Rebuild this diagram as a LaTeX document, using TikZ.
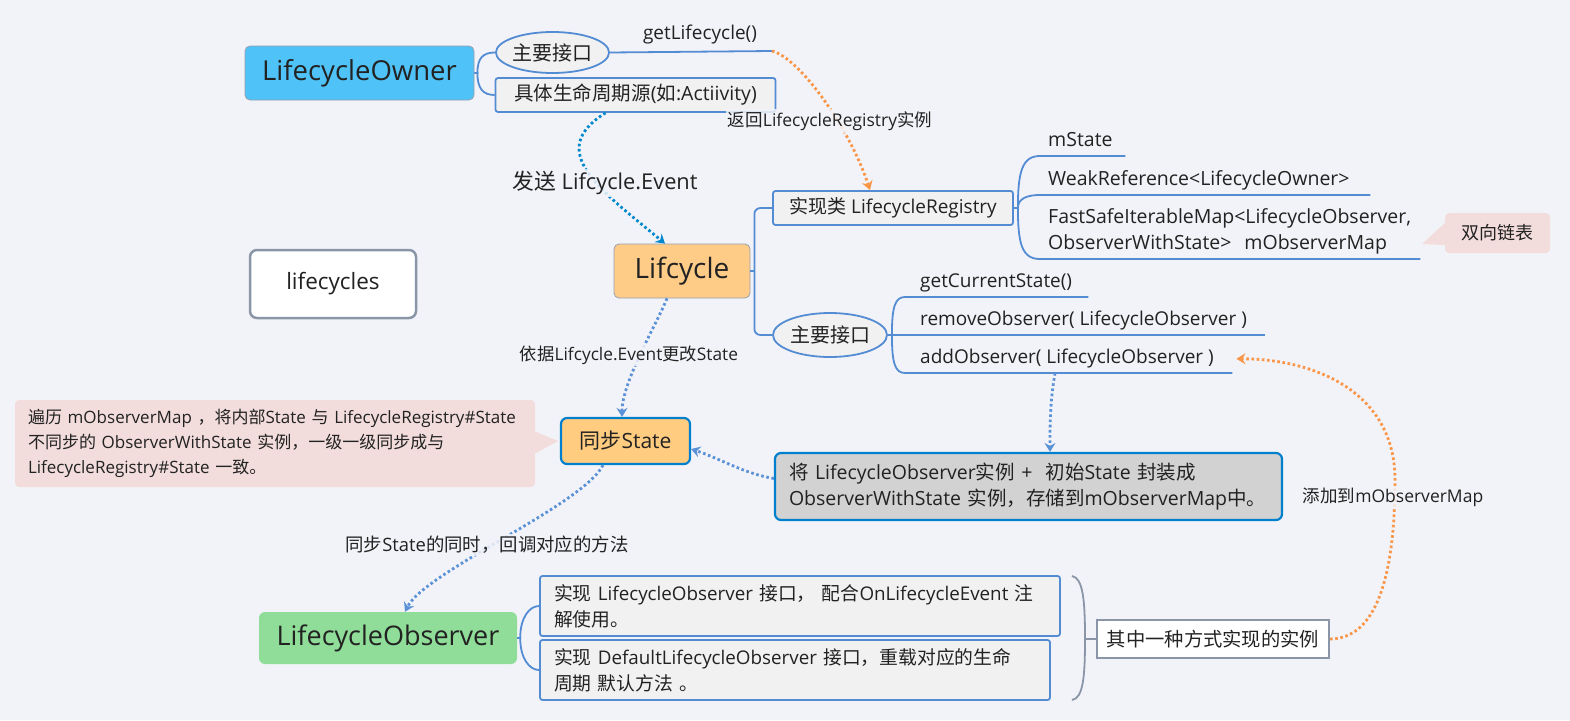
\documentclass[tikz,border=0pt]{standalone}
\usepackage{fontspec}
\setmainfont{Open Sans}
\newfontfamily\cjk{Noto Sans CJK SC}
\usetikzlibrary{shapes.geometric,arrows.meta}
\XeTeXinterchartokenstate=1
\newXeTeXintercharclass\cjkclass
\newcount\cjkc
\def\setcls#1#2#3{\cjkc=#1\relax\loop\XeTeXcharclass\cjkc=#3\relax\ifnum\cjkc<#2\relax\advance\cjkc by 1\relax\repeat}
\setcls{"0021}{"007E}{0}
\setcls{"4E00}{"9FFF}{\cjkclass}
\setcls{"3000}{"303F}{\cjkclass}
\setcls{"FF00}{"FFEF}{\cjkclass}
\def\latin{\rmfamily}
\XeTeXinterchartoks 0 \cjkclass = {\cjk}
\XeTeXinterchartoks 4095 \cjkclass = {\cjk}
\XeTeXinterchartoks \cjkclass 0 = {\latin}
\XeTeXinterchartoks \cjkclass 4095 = {\latin}
\newcommand\fsz[2]{\fontsize{#1}{#2}\selectfont}
\newcommand\lbox[2]{\makebox[#1][l]{#2}}
\definecolor{bgc}{RGB}{242,243,248}
\definecolor{brc}{RGB}{84,140,212}
\definecolor{lg}{RGB}{241,241,241}
\definecolor{ownc}{RGB}{79,195,247}
\definecolor{ownb}{RGB}{150,160,175}
\definecolor{orc}{RGB}{255,204,136}
\definecolor{gbr}{RGB}{138,150,168}
\definecolor{syc}{RGB}{255,204,128}
\definecolor{dbl}{RGB}{0,128,204}
\definecolor{gbx}{RGB}{210,210,210}
\definecolor{grc}{RGB}{143,221,152}
\definecolor{pk}{RGB}{242,221,220}
\definecolor{oarr}{RGB}{249,150,72}
\definecolor{darr}{RGB}{0,136,204}
\definecolor{larr}{RGB}{90,145,215}
\definecolor{tc}{RGB}{34,34,34}
\begin{document}
\begin{tikzpicture}[x=1pt,y=-1pt,
  every node/.append style={text=tc,inner sep=0pt},
  branch/.style={draw=brc,line width=1.8pt},
  sub/.style={draw=brc,line width=1.8pt,fill=lg,rounded corners=2.5pt},
  ell/.style={ellipse,draw=brc,line width=1.8pt,fill=lg},
  ul/.style={anchor=south west,inner xsep=8pt,inner ysep=5pt,align=left,font=\fsz{19}{26}},
  ulone/.style={text height=14pt,text depth=4pt},
  dotl/.style={line width=2.8pt,dash pattern=on 2.6pt off 2.6pt,-{Stealth[length=9pt,width=11pt,inset=3pt]}},
  lbl/.style={fill=bgc,fill opacity=0.85,text opacity=1,inner sep=2pt},
  ]
\fill[bgc] (0,0) rectangle (1570,720);
\useasboundingbox (0,0) rectangle (1570,720);

% LifecycleOwner
\node[fill=ownc,draw=ownb,line width=0.8pt,rounded corners=5pt,minimum width=229pt,minimum height=54pt,font=\fsz{27.5}{32}] (owner) at (359.5,73) {LifecycleOwner};
\node[ell,minimum width=113pt,minimum height=41pt,font=\fsz{20}{24}] (ifc1) at (552.5,52.5) {主要接口};
\node[sub,minimum width=280pt,minimum height=34pt,font=\fsz{19.5}{22}] (src) at (635.5,95) {具体生命周期源(如:Actiivity)};
\draw[branch] (owner.east) -- ++(3,0) .. controls +(0,-15) and +(-12,0) .. (ifc1.west);
\draw[branch] (owner.east) -- ++(3,0) .. controls +(0,15) and +(-12,0) .. (src.west);
\coordinate (glend) at (772,51);
\draw[branch] (ifc1.east) -- (glend);
\node[font=\fsz{19}{22}] (gl) at (700,35) {getLifecycle()};

% Lifcycle
\node[fill=orc,draw=ownb,line width=0.8pt,rounded corners=5pt,minimum width=136pt,minimum height=54pt,font=\fsz{28}{32}] (lifc) at (682,271) {Lifcycle};
\node[fill=white,draw=gbr,line width=2.5pt,rounded corners=7pt,minimum width=166pt,minimum height=68pt,font=\fsz{22.5}{26}] (lcs) at (333,284) {lifecycles};
\node[sub,minimum width=240pt,minimum height=34pt,font=\fsz{19}{22}] (impl) at (893,208) {实现类 LifecycleRegistry};
\node[ell,minimum width=114pt,minimum height=44pt,font=\fsz{20}{24}] (ifc2) at (830,335) {主要接口};
\draw[branch] (lifc.east) -- ++(4,0);
\draw[branch,rounded corners=6pt] ([xshift=4pt]lifc.east) |- (impl.west);
\draw[branch,rounded corners=6pt] ([xshift=4pt]lifc.east) |- (ifc2.west);

% registry members
\node[ul,ulone,font=\fsz{19.5}{26}] (ms) at (1040,156) {\lbox{69pt}{mState}};
\node[ul,ulone,font=\fsz{19.5}{26}] (wr) at (1040,195) {\lbox{314pt}{WeakReference<LifecycleOwner>}};
\node[ul,text width=364pt,font=\fsz{19.5}{26}] (fs) at (1040,259) {FastSafeIterableMap<LifecycleObserver,\\ObserverWithState>\ \ mObserverMap};
\draw[branch] (impl.east) -- ++(4,0) .. controls +(0,-36) and +(-18,0) .. (ms.south west) -- (ms.south east);
\draw[branch] (impl.east) -- ++(4,0) .. controls +(0,-10) and +(-12,0) .. (wr.south west) -- (wr.south east);
\draw[branch] (impl.east) -- ++(4,0) .. controls +(0,36) and +(-18,0) .. (fs.south west) -- (fs.south east);

% note
\node[fill=pk,rounded corners=4pt,minimum width=105pt,minimum height=40pt,font=\fsz{18}{22}] (dl) at (1497.5,233) {双向链表};
\coordinate (dltip) at (1422,244);
\fill[pk] ([yshift=10pt]dl.west) -- (dltip) -- ([yshift=-12pt]dl.west) -- cycle;

% interface members
\node[ul,ulone,inner xsep=15pt] (gc) at (905,297) {\lbox{153pt}{getCurrentState()}};
\node[ul,ulone,inner xsep=15pt] (rm) at (905,335) {\lbox{330pt}{removeObserver( LifecycleObserver )}};
\node[ul,ulone,inner xsep=15pt] (ao) at (905,373) {\lbox{297pt}{addObserver( LifecycleObserver )}};
\draw[branch] (ifc2.east) -- ++(4,0) .. controls +(0,-28) and +(-10,0) .. (gc.south west) -- (gc.south east);
\draw[branch] (ifc2.east) -- (rm.south west) -- (rm.south east);
\draw[branch] (ifc2.east) -- ++(4,0) .. controls +(0,28) and +(-10,0) .. (ao.south west) -- (ao.south east);

% sync
\node[fill=syc,draw=dbl,line width=2.2pt,rounded corners=6pt,minimum width=129pt,minimum height=46pt,font=\fsz{21}{24}] (sync) at (625.5,441) {同步State};
\node[fill=gbx,draw=dbl,line width=2.2pt,rounded corners=6pt,minimum height=67pt,text width=479pt,inner xsep=14pt,align=left,font=\fsz{19.5}{26}] (wrap) at (1028.5,486.5) {将 LifecycleObserver实例 +\ \ 初始State 封装成\\ObserverWithState 实例，存储到mObserverMap中。};
\node[fill=pk,rounded corners=4pt,minimum height=87pt,text width=494pt,inner xsep=13pt,align=left,font=\fsz{17}{25}] (cb) at (275,443.5) {遍历 mObserverMap ，将内部State 与 LifecycleRegistry\#State\\不同步的 ObserverWithState 实例，一级一级同步成与\\LifecycleRegistry\#State 一致。};
\coordinate (cbtip) at (558,441);
\fill[pk] ([yshift=12pt]cb.east) -- (cbtip) -- ([yshift=-10pt]cb.east) -- cycle;

% observer
\node[fill=grc,rounded corners=6pt,minimum width=258pt,minimum height=52pt,font=\fsz{27}{30}] (lo) at (388,638) {LifecycleObserver};
\node[sub,minimum height=60pt,text width=492pt,inner xsep=14pt,align=left,font=\fsz{18.8}{26}] (b1) at (800,606) {实现 LifecycleObserver 接口， 配合OnLifecycleEvent 注\\解使用。};
\node[sub,minimum height=60pt,text width=482pt,inner xsep=14pt,align=left,font=\fsz{18.8}{26}] (b2) at (795,670) {实现 DefaultLifecycleObserver 接口，重载对应的生命\\周期 默认方法 。};
\draw[branch] (lo.east) -- ++(3,0) .. controls +(0,-20) and +(-10,0) .. (b1.west);
\draw[branch] (lo.east) -- ++(3,0) .. controls +(0,20) and +(-10,0) .. (b2.west);
\node[fill=white,draw=gbr,line width=2pt,minimum width=232pt,minimum height=38pt,font=\fsz{19.3}{22}] (tag) at (1213,639) {其中一种方式实现的实例};
\coordinate (brt) at (1072,576);
\coordinate (brm) at (1085,639);
\coordinate (brb) at (1072,700);
\draw[gbr,line width=1.8pt] (brt) .. controls (1083,578) and (1085,600) .. (brm) .. controls (1085,678) and (1083,698) .. (brb);
\draw[gbr,line width=1.8pt] (brm) -- (tag.west);

% dotted arrows
\draw[dotl,oarr] (glend) .. controls +(28,7) and +(-20,-61) .. ([xshift=-23pt]impl.north);
\draw[dotl,darr] ([xshift=-30pt]src.south) .. controls +(-61,38) and +(-65,-54) .. ([xshift=-17pt]lifc.north);
\draw[dotl,larr] ([xshift=-15pt]lifc.south) .. controls +(-10,25) and +(0,-35) .. ([xshift=-3.5pt]sync.north);
\draw[dotl,larr] ([yshift=8pt]wrap.west) .. controls +(-30,-5) and +(30,10) .. ([yshift=-8pt]sync.east);
\draw[dotl,larr] ([xshift=150pt]ao.south west) .. controls +(-5,30) and +(0,-30) .. ([xshift=21.5pt]wrap.north);
\draw[dotl,larr] ([xshift=-22.5pt]sync.south) .. controls +(-20,40) and +(20,-40) .. ([xshift=17pt]lo.north);
\coordinate (gmid) at (1395,480);
\draw[dotl,oarr] (tag.east) .. controls +(55,0) and +(0,70) .. (gmid) .. controls +(0,-90) and +(75,0) .. ([xshift=4pt]ao.east);

% labels
\node[lbl,font=\fsz{17.5}{20}] (lb0) at (830,121) {返回LifecycleRegistry实例};
\node[lbl,font=\fsz{21.8}{25}] (lb1) at (605,183) {发送 Lifcycle.Event};
\node[lbl,font=\fsz{17.3}{20}] (lb2) at (629,355) {依据Lifcycle.Event更改State};
\node[lbl,font=\fsz{18.4}{21}] (lb3) at (487,545) {同步State的同时，回调对应的方法};
\node[lbl,font=\fsz{17.5}{20}] (lb4) at (1393,497) {添加到mObserverMap};
\end{tikzpicture}
\end{document}
